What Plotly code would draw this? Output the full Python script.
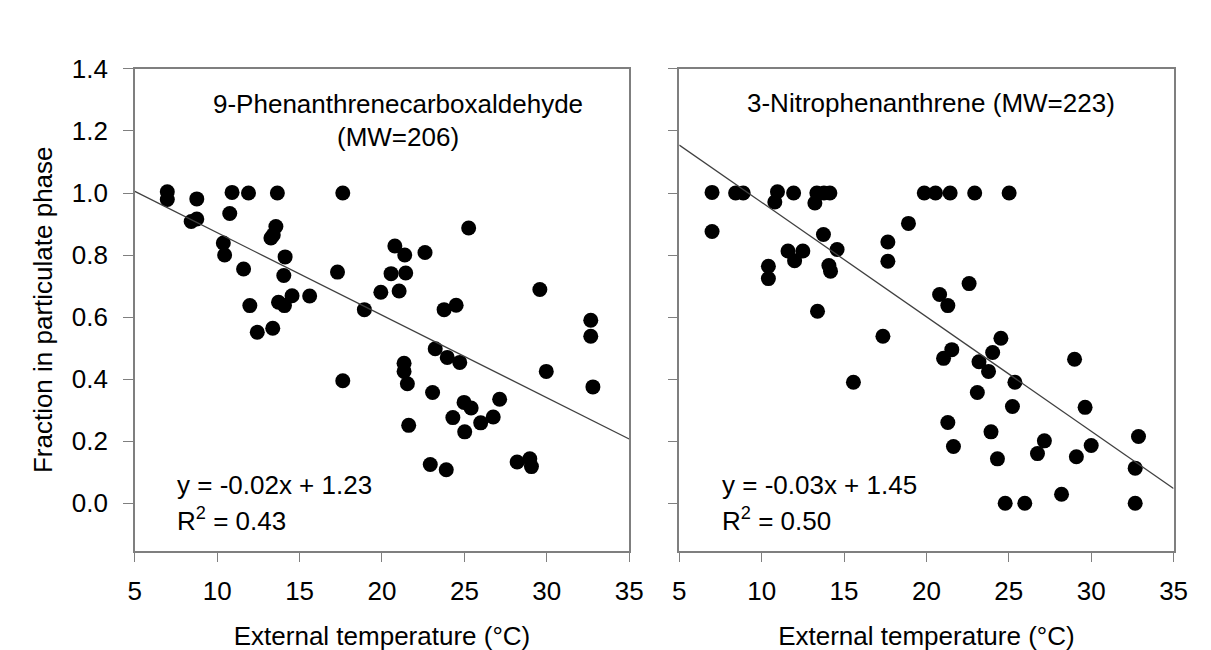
import plotly.graph_objects as go

# 9-Phenanthrenecarboxaldehyde
phen_temp = [6.97, 6.97, 8.76, 10.9, 11.9, 13.65, 17.62, 8.42, 8.76, 10.76,
             13.56, 13.26, 13.4, 10.37, 10.45, 11.6, 14.12, 14.04, 17.3, 14.54,
             13.72, 14.08, 15.61, 11.98, 12.43, 13.37, 18.93, 19.93, 17.62,
             25.26, 20.78, 21.38, 22.61, 20.55, 21.44, 21.04, 29.58, 23.77, 24.5,
             32.67, 32.67, 23.23, 23.96, 24.72, 21.34, 21.34, 21.54, 29.97, 32.8,
             23.07, 27.14, 24.98, 25.41, 24.3, 26.75, 25.99, 25.02, 21.62, 22.93,
             23.9, 28.2, 28.97, 29.07]
phen_frac = [1.004, 0.979, 0.981, 1.002, 1.0, 1.0, 1.0, 0.908, 0.916, 0.934,
             0.892, 0.855, 0.865, 0.839, 0.80, 0.755, 0.794, 0.734, 0.745, 0.669,
             0.648, 0.637, 0.668, 0.637, 0.551, 0.564, 0.624, 0.68, 0.395,
             0.887, 0.829, 0.80, 0.808, 0.74, 0.742, 0.684, 0.689, 0.624, 0.638,
             0.59, 0.538, 0.498, 0.47, 0.454, 0.451, 0.425, 0.385, 0.425, 0.375,
             0.357, 0.335, 0.325, 0.307, 0.276, 0.278, 0.259, 0.23, 0.251, 0.125,
             0.108, 0.133, 0.143, 0.118]

# 3-Nitrophenanthrene
nitro_temp = [6.99, 8.42, 8.88, 10.96, 10.8, 11.94, 13.35, 13.78, 14.14, 13.23,
              6.99, 13.75, 14.58, 11.6, 12.5, 12.0, 10.41, 10.41, 14.08, 14.18,
              17.66, 17.66, 18.91, 19.87, 13.39, 17.36, 15.57,
              20.55, 21.44, 22.93, 25.02, 22.59, 20.8, 21.3, 24.52, 21.54, 21.04,
              24.02, 23.19, 23.77, 28.99, 25.37, 23.09, 25.22, 29.63, 21.3, 23.92,
              21.64, 27.16, 26.74, 24.31, 29.1, 30.0, 32.87, 32.67, 28.2, 24.78,
              25.97, 32.67]
nitro_frac = [1.002, 1.0, 1.0, 1.004, 0.971, 1.0, 1.0, 1.0, 1.0, 0.968,
              0.876, 0.866, 0.818, 0.813, 0.813, 0.782, 0.764, 0.724, 0.766, 0.748,
              0.842, 0.78, 0.902, 1.0, 0.619, 0.538, 0.39,
              1.0, 1.0, 1.0, 1.0, 0.708, 0.673, 0.637, 0.532, 0.495, 0.467,
              0.486, 0.456, 0.425, 0.464, 0.39, 0.357, 0.312, 0.309, 0.26, 0.23,
              0.183, 0.201, 0.16, 0.143, 0.15, 0.186, 0.215, 0.113, 0.029, 0.0,
              0.0, 0.0]

# fitted lines as drawn (slope, intercept)
phen_fit = (-0.0266, 1.138)
nitro_fit = (-0.0369, 1.339)
fit_x = [5, 35]

font = "Arial, Liberation Sans, sans-serif"
axis_col = "#7f7f7f"

fig = go.Figure()
fig.add_trace(go.Scatter(x=phen_temp, y=phen_frac, mode="markers",
                         marker=dict(color="black", size=15),
                         xaxis="x", yaxis="y", showlegend=False))
fig.add_trace(go.Scatter(x=fit_x, y=[phen_fit[0] * v + phen_fit[1] for v in fit_x],
                         mode="lines", line=dict(color="#404040", width=1.3),
                         xaxis="x", yaxis="y", showlegend=False))
fig.add_trace(go.Scatter(x=nitro_temp, y=nitro_frac, mode="markers",
                         marker=dict(color="black", size=15),
                         xaxis="x2", yaxis="y2", showlegend=False))
fig.add_trace(go.Scatter(x=fit_x, y=[nitro_fit[0] * v + nitro_fit[1] for v in fit_x],
                         mode="lines", line=dict(color="#404040", width=1.3),
                         xaxis="x2", yaxis="y2", showlegend=False))

xax = dict(range=[5, 35], tickvals=[5, 10, 15, 20, 25, 30, 35], ticks="outside",
           ticklen=10, tickcolor=axis_col, showline=True, linecolor=axis_col,
           linewidth=1.5, mirror=True, showgrid=False, zeroline=False,
           ticklabelstandoff=6,
           tickfont=dict(size=26, color="black"),
           title=dict(text="External temperature (°C)", font=dict(size=26, color="black"),
                      standoff=22))
yax = dict(range=[-0.153, 1.4], tickvals=[0, 0.2, 0.4, 0.6, 0.8, 1.0, 1.2, 1.4],
           tickformat=".1f", ticks="outside", ticklen=10, tickcolor=axis_col,
           showline=True, linecolor=axis_col, linewidth=1.5, mirror=True,
           ticklabelstandoff=10,
           showgrid=False, zeroline=False, tickfont=dict(size=26, color="black"))

fig.update_layout(
    width=1211, height=650, margin=dict(l=0, r=0, t=0, b=0),
    plot_bgcolor="white", paper_bgcolor="white",
    font=dict(family=font, color="black"),
    xaxis=dict(xax, domain=[0.1007, 0.5161], anchor="y"),
    yaxis=dict(yax, domain=[0.169, 0.9277], anchor="x",
               title=dict(text="Fraction in particulate phase", font=dict(size=26), standoff=12)),
    xaxis2=dict(xax, domain=[0.5582, 0.9736], anchor="y2"),
    yaxis2=dict(yax, domain=[0.169, 0.9277], anchor="x2", showticklabels=False),
)

ann = dict(showarrow=False, font=dict(size=26, color="black"))
fig.add_annotation(ann, x=21.0, y=1.287, xref="x", yref="y", text="9-Phenanthrenecarboxaldehyde")
fig.add_annotation(ann, x=21.0, y=1.18, xref="x", yref="y", text="(MW=206)")
fig.add_annotation(ann, x=20.3, y=1.29, xref="x2", yref="y2", text="3-Nitrophenanthrene (MW=223)")
fig.add_annotation(ann, x=7.45, y=0.058, xref="x", yref="y", xanchor="left",
                   text="y = -0.02x + 1.23")
fig.add_annotation(ann, x=7.45, y=-0.052, xref="x", yref="y", xanchor="left",
                   text="R<sup>2</sup> = 0.43")
fig.add_annotation(ann, x=7.45, y=0.058, xref="x2", yref="y2", xanchor="left",
                   text="y = -0.03x + 1.45")
fig.add_annotation(ann, x=7.45, y=-0.052, xref="x2", yref="y2", xanchor="left",
                   text="R<sup>2</sup> = 0.50")

fig.write_html("out.html")
